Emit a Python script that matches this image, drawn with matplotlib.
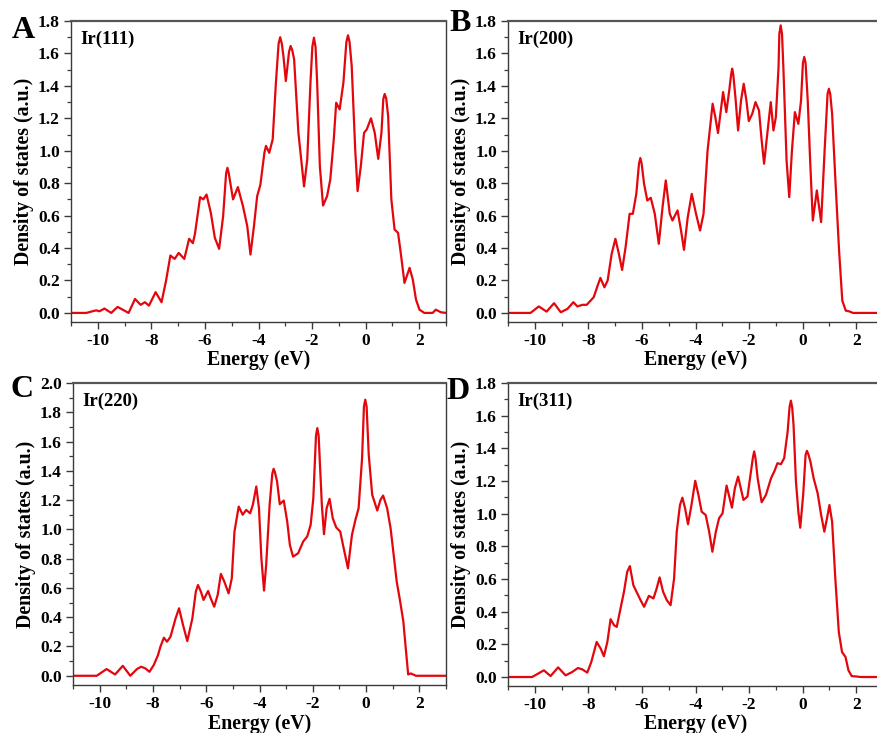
import matplotlib
matplotlib.use("Agg")
import matplotlib.pyplot as plt
from matplotlib.ticker import MultipleLocator

plt.rcParams['font.family'] = ['Liberation Serif', 'DejaVu Serif']
plt.rcParams['font.weight'] = 'bold'
plt.rcParams['axes.unicode_minus'] = False

# ---------------- data ----------------
panel_letters = ['A', 'B', 'C', 'D']
facets = ['Ir(111)', 'Ir(200)', 'Ir(220)', 'Ir(311)']

e_111 = [-11.0, -10.43, -10.06, -9.94, -9.75, -9.5, -9.26, -8.85, -8.61, -8.4, -8.24, -8.09, -7.84, -7.62,
         -7.45, -7.29, -7.13, -6.98, -6.77, -6.59, -6.45, -6.37, -6.18, -6.06, -5.94, -5.78, -5.63, -5.47,
         -5.32, -5.21, -5.16, -5.11, -5.01, -4.95, -4.77, -4.58, -4.42, -4.30, -4.17, -4.05, -3.93, -3.78,
         -3.72, -3.6, -3.47, -3.35, -3.25, -3.19, -3.13, -3.07, -2.98, -2.86, -2.80, -2.74, -2.67, -2.51,
         -2.30, -2.18, -2.06, -1.99, -1.93, -1.87, -1.81, -1.71, -1.59, -1.44, -1.32, -1.19, -1.10, -0.97,
         -0.83, -0.72, -0.66, -0.60, -0.52, -0.39, -0.30, -0.18, -0.06, 0.04, 0.20, 0.34, 0.47, 0.59, 0.66,
         0.71, 0.77, 0.84, 0.96, 1.08, 1.21, 1.31, 1.45, 1.64, 1.76, 1.88, 2.01, 2.19, 2.5, 2.62, 2.81, 3.0]
dos_111 = [0.0, 0.0, 0.016, 0.01, 0.027, 0.0, 0.037, 0.0, 0.086, 0.05, 0.066, 0.045, 0.128, 0.066,
           0.2, 0.354, 0.333, 0.37, 0.333, 0.457, 0.43, 0.49, 0.714, 0.70, 0.73, 0.617, 0.463, 0.395,
           0.597, 0.86, 0.895, 0.86, 0.76, 0.70, 0.776, 0.658, 0.535, 0.36, 0.535, 0.72, 0.79, 0.987,
           1.03, 0.987, 1.07, 1.42, 1.66, 1.70, 1.66, 1.584, 1.43, 1.61, 1.646, 1.62, 1.563, 1.11,
           0.78, 0.946, 1.42, 1.64, 1.697, 1.64, 1.42, 0.905, 0.662, 0.72, 0.823, 1.07, 1.296, 1.255,
           1.42, 1.67, 1.712, 1.67, 1.522, 1.008, 0.751, 0.905, 1.11, 1.131, 1.20, 1.11, 0.95, 1.11, 1.32,
           1.35, 1.32, 1.214, 0.70, 0.514, 0.494, 0.37, 0.185, 0.278, 0.206, 0.082, 0.02, 0.0, 0.0, 0.02,
           0.004, 0.0]

e_200 = [-11.0, -10.16, -9.85, -9.56, -9.28, -9.03, -8.78, -8.56, -8.41, -8.22, -8.06, -7.80, -7.65, -7.55,
         -7.40, -7.28, -7.13, -6.99, -6.86, -6.74, -6.61, -6.46, -6.34, -6.21, -6.11, -6.06, -6.01, -5.92,
         -5.80, -5.67, -5.52, -5.37, -5.23, -5.11, -4.96, -4.86, -4.67, -4.54, -4.43, -4.29, -4.14, -3.98,
         -3.83, -3.70, -3.55, -3.36, -3.26, -3.16, -3.07, -2.97, -2.85, -2.74, -2.67, -2.63, -2.59, -2.51,
         -2.41, -2.30, -2.20, -2.10, -2.01, -1.88, -1.76, -1.63, -1.53, -1.44, -1.32, -1.19, -1.09, -1.0,
         -0.90, -0.87, -0.82, -0.77, -0.72, -0.60, -0.50, -0.40, -0.29, -0.16, -0.06, 0.01, 0.06, 0.11,
         0.19, 0.28, 0.38, 0.53, 0.69, 0.82, 0.93, 0.98, 1.03, 1.10, 1.23, 1.36, 1.48, 1.61, 1.73, 1.88, 3.0]
dos_200 = [0.0, 0.0, 0.04, 0.008, 0.06, 0.004, 0.025, 0.066, 0.04, 0.05, 0.05, 0.097, 0.17, 0.216,
           0.158, 0.2, 0.364, 0.457, 0.364, 0.265, 0.405, 0.611, 0.611, 0.734, 0.92, 0.955, 0.92, 0.796,
           0.693, 0.71, 0.611, 0.426, 0.652, 0.817, 0.611, 0.57, 0.632, 0.508, 0.389, 0.59, 0.734, 0.611,
           0.508, 0.611, 1.0, 1.29, 1.207, 1.109, 1.228, 1.362, 1.238, 1.372, 1.47, 1.506, 1.47, 1.331,
           1.125, 1.31, 1.413, 1.31, 1.183, 1.228, 1.30, 1.249, 1.064, 0.92, 1.105, 1.30, 1.125, 1.207,
           1.516, 1.72, 1.773, 1.72, 1.516, 0.94, 0.714, 1.0, 1.238, 1.166, 1.31, 1.54, 1.578, 1.54,
           1.31, 0.94, 0.57, 0.755, 0.56, 1.0, 1.35, 1.382, 1.35, 1.228, 0.796, 0.385, 0.076, 0.014, 0.01,
           0.0, 0.0]

e_220 = [-11.0, -10.11, -9.74, -9.42, -9.13, -8.85, -8.60, -8.44, -8.28, -8.13, -7.97, -7.81, -7.72, -7.59,
         -7.47, -7.34, -7.15, -7.02, -6.87, -6.71, -6.52, -6.39, -6.31, -6.20, -6.10, -5.93, -5.83, -5.70,
         -5.57, -5.45, -5.32, -5.16, -5.04, -4.94, -4.78, -4.63, -4.50, -4.35, -4.25, -4.12, -4.02, -3.93,
         -3.83, -3.75, -3.62, -3.52, -3.47, -3.42, -3.34, -3.24, -3.09, -2.96, -2.86, -2.74, -2.55, -2.36,
         -2.21, -2.08, -1.98, -1.88, -1.83, -1.78, -1.73, -1.66, -1.58, -1.48, -1.37, -1.25, -1.12, -0.97,
         -0.84, -0.68, -0.53, -0.40, -0.28, -0.15, -0.08, -0.03, 0.02, 0.10, 0.23, 0.42, 0.54, 0.64, 0.79,
         0.92, 1.05, 1.15, 1.27, 1.40, 1.49, 1.58, 1.68, 1.87, 3.0]
dos_220 = [0.0, 0.0, 0.046, 0.009, 0.068, 0.0, 0.046, 0.062, 0.05, 0.027, 0.073, 0.141, 0.198, 0.26,
           0.233, 0.267, 0.392, 0.461, 0.347, 0.237, 0.392, 0.575, 0.62, 0.575, 0.518, 0.579, 0.529, 0.472,
           0.552, 0.696, 0.643, 0.563, 0.666, 0.985, 1.156, 1.10, 1.133, 1.11, 1.168, 1.293, 1.145, 0.803,
           0.582, 0.757, 1.168, 1.38, 1.414, 1.39, 1.327, 1.172, 1.197, 1.054, 0.894, 0.814, 0.837, 0.917,
           0.951, 1.031, 1.213, 1.64, 1.692, 1.64, 1.441, 1.168, 0.967, 1.145, 1.209, 1.076, 1.013, 0.985,
           0.871, 0.734, 0.962, 1.065, 1.145, 1.487, 1.84, 1.886, 1.84, 1.51, 1.236, 1.129, 1.202, 1.231,
           1.145, 1.008, 0.803, 0.643, 0.518, 0.369, 0.187, 0.009, 0.016, 0.0, 0.0]

e_311 = [-11.0, -10.1, -9.66, -9.41, -9.13, -8.85, -8.60, -8.39, -8.23, -8.04, -7.89, -7.69, -7.54, -7.42,
         -7.29, -7.17, -7.04, -6.94, -6.80, -6.67, -6.55, -6.45, -6.32, -6.17, -6.05, -5.92, -5.74, -5.57,
         -5.45, -5.34, -5.21, -5.07, -4.93, -4.80, -4.70, -4.58, -4.49, -4.39, -4.28, -4.15, -4.01, -3.89,
         -3.77, -3.62, -3.49, -3.37, -3.24, -3.12, -2.99, -2.84, -2.74, -2.64, -2.53, -2.41, -2.31, -2.21,
         -2.06, -1.93, -1.86, -1.81, -1.76, -1.68, -1.53, -1.37, -1.18, -1.06, -0.94, -0.81, -0.69, -0.56,
         -0.49, -0.44, -0.39, -0.34, -0.25, -0.16, -0.09, 0.02, 0.11, 0.16, 0.21, 0.29, 0.41, 0.56, 0.69,
         0.81, 0.91, 1.0, 1.10, 1.22, 1.35, 1.47, 1.60, 1.71, 1.83, 2.18, 3.0]
dos_311 = [0.0, 0.0, 0.041, 0.006, 0.059, 0.01, 0.031, 0.055, 0.047, 0.027, 0.092, 0.215, 0.174, 0.127,
           0.215, 0.354, 0.317, 0.307, 0.419, 0.522, 0.644, 0.679, 0.562, 0.511, 0.47, 0.43, 0.497, 0.481,
           0.542, 0.61, 0.522, 0.47, 0.44, 0.603, 0.89, 1.053, 1.098, 1.033, 0.935, 1.053, 1.201, 1.115,
           1.012, 0.992, 0.89, 0.767, 0.89, 0.972, 1.002, 1.172, 1.105, 1.037, 1.156, 1.227, 1.156, 1.084,
           1.105, 1.258, 1.34, 1.381, 1.34, 1.217, 1.07, 1.115, 1.217, 1.258, 1.309, 1.303, 1.34, 1.503,
           1.65, 1.692, 1.65, 1.544, 1.197, 1.012, 0.914, 1.115, 1.36, 1.385, 1.365, 1.319, 1.217, 1.125,
           0.992, 0.89, 0.972, 1.053, 0.951, 0.603, 0.276, 0.153, 0.123, 0.041, 0.006, 0.0, 0.0]

energies = [e_111, e_200, e_220, e_311]
dos = [dos_111, dos_200, dos_220, dos_311]
ylims = [(-0.056, 1.8), (-0.056, 1.8), (-0.063, 2.0), (-0.055, 1.8)]
yticks = [[0.0, 0.2, 0.4, 0.6, 0.8, 1.0, 1.2, 1.4, 1.6, 1.8],
          [0.0, 0.2, 0.4, 0.6, 0.8, 1.0, 1.2, 1.4, 1.6, 1.8],
          [0.0, 0.2, 0.4, 0.6, 0.8, 1.0, 1.2, 1.4, 1.6, 1.8, 2.0],
          [0.0, 0.2, 0.4, 0.6, 0.8, 1.0, 1.2, 1.4, 1.6, 1.8]]
xticks = [-10, -8, -6, -4, -2, 0, 2]

# ---------------- layout ----------------
W, H = 877, 733
fig = plt.figure(figsize=(W / 100, H / 100), dpi=100)
boxes = [(71, 21, 446, 322), (508, 21, 883, 322), (73, 383, 446, 685), (508, 383, 883, 686)]
letter_pos = [(12, 38), (449, 31), (11, 397), (446, 399)]

red = '#e3070d'
spine_col = '#3a3a3a'

for i in range(4):
    l, t, r, b = boxes[i]
    ax = fig.add_axes([l / W, 1 - b / H, (r - l) / W, (b - t) / H])
    ax.plot(energies[i], dos[i], color=red, lw=1.6, solid_joinstyle='round',
            solid_capstyle='round')
    ax.set_xlim(-11, 3)
    ax.set_ylim(*ylims[i])
    ax.set_xticks(xticks)
    ax.set_yticks(yticks[i])
    ax.set_xticklabels([str(v) for v in xticks])
    ax.set_yticklabels(['%.1f' % v for v in yticks[i]])
    ax.xaxis.set_minor_locator(MultipleLocator(1))
    ax.yaxis.set_minor_locator(MultipleLocator(0.1))
    ax.tick_params(which='major', direction='out', length=5, width=1.0, labelsize=12.5,
                   pad=3, top=False, right=False, color=spine_col)
    ax.tick_params(which='minor', direction='out', length=3, width=0.9, top=False, right=False,
                   color=spine_col)
    for lab in ax.get_xticklabels() + ax.get_yticklabels():
        lab.set_fontweight('bold')
    for s in ax.spines.values():
        s.set_color(spine_col)
        s.set_linewidth(1.0)
    ax.spines['top'].set_linewidth(1.6)
    ax.spines['top'].set_color('#555555')
    ax.set_xlabel('Energy (eV)', fontsize=14.3, fontweight='bold', labelpad=1)
    ax.set_ylabel('Density of states (a.u.)', fontsize=14.3, fontweight='bold', labelpad=3)
    ax.text(0.024, 0.968, facets[i], transform=ax.transAxes, ha='left', va='top',
            fontsize=13.5, fontweight='bold')
    lx, ly = letter_pos[i]
    fig.text(lx / W, 1 - ly / H, panel_letters[i], fontsize=23, fontweight='bold',
             ha='left', va='baseline')

fig.savefig('out.png', dpi=100)
